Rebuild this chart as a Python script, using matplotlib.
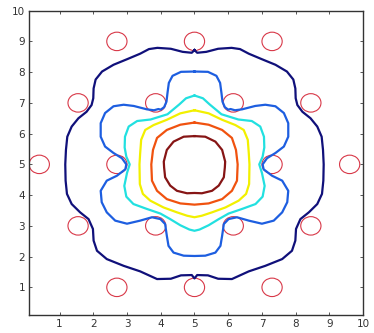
import matplotlib
matplotlib.use("Agg")
import matplotlib.pyplot as plt
from matplotlib.patches import Circle

# contour lines, (x, y) in data units, one closed loop per level
navy_pts = [(5.00, 8.72), (4.92, 8.63), (4.65, 8.66), (4.30, 8.76), (3.90, 8.79), (3.65, 8.75),
            (3.39, 8.60), (3.00, 8.42), (2.60, 8.24), (2.26, 8.02), (2.07, 7.76), (2.01, 7.47),
            (2.00, 7.15), (1.95, 6.93), (1.80, 6.71), (1.56, 6.50), (1.36, 6.23), (1.23, 5.90),
            (1.19, 5.47), (1.17, 5.00), (1.18, 4.47), (1.22, 4.04), (1.36, 3.71), (1.61, 3.44),
            (1.86, 3.22), (1.99, 2.90), (2.01, 2.52), (2.11, 2.19), (2.40, 1.92), (2.90, 1.70),
            (3.39, 1.52), (3.89, 1.27), (4.30, 1.28), (4.60, 1.39), (4.92, 1.40), (5.00, 1.29),
            (5.08, 1.40), (5.40, 1.39), (5.70, 1.28), (6.11, 1.27), (6.61, 1.52), (7.10, 1.70),
            (7.60, 1.92), (7.89, 2.19), (7.99, 2.52), (8.01, 2.90), (8.14, 3.22), (8.39, 3.44),
            (8.64, 3.71), (8.78, 4.04), (8.82, 4.47), (8.83, 5.00), (8.81, 5.47), (8.77, 5.90),
            (8.64, 6.23), (8.44, 6.50), (8.20, 6.71), (8.05, 6.93), (8.00, 7.15), (7.99, 7.47),
            (7.93, 7.76), (7.74, 8.02), (7.40, 8.24), (7.00, 8.42), (6.61, 8.60), (6.35, 8.75),
            (6.10, 8.79), (5.70, 8.76), (5.35, 8.66), (5.08, 8.63), (5.00, 8.72)]

blue_pts = [(5.00, 8.02), (4.60, 8.01), (4.35, 7.88), (4.24, 7.65), (4.20, 7.32), (4.17, 7.04),
            (4.10, 6.86), (4.00, 6.78), (3.93, 6.80), (3.80, 6.76), (3.59, 6.79), (3.20, 6.90),
            (2.90, 6.94), (2.60, 6.89), (2.35, 6.67), (2.22, 6.34), (2.22, 5.90), (2.35, 5.58),
            (2.60, 5.37), (2.85, 5.20), (2.98, 5.00), (2.95, 4.84), (2.70, 4.63), (2.40, 4.47),
            (2.22, 4.14), (2.25, 3.77), (2.40, 3.44), (2.65, 3.17), (3.00, 3.07), (3.39, 3.17),
            (3.74, 3.28), (3.99, 3.22), (4.13, 3.06), (4.18, 2.68), (4.23, 2.35), (4.38, 2.13),
            (4.68, 2.03), (5.00, 2.02), (5.32, 2.03), (5.62, 2.13), (5.77, 2.35), (5.82, 2.68),
            (5.87, 3.06), (6.01, 3.22), (6.26, 3.28), (6.61, 3.17), (7.00, 3.07), (7.35, 3.17),
            (7.60, 3.44), (7.75, 3.77), (7.78, 4.14), (7.60, 4.47), (7.30, 4.63), (7.05, 4.84),
            (7.02, 5.00), (7.15, 5.20), (7.40, 5.37), (7.65, 5.58), (7.78, 5.90), (7.78, 6.34),
            (7.65, 6.67), (7.40, 6.89), (7.10, 6.94), (6.80, 6.90), (6.41, 6.79), (6.20, 6.76),
            (6.07, 6.80), (6.00, 6.78), (5.90, 6.86), (5.83, 7.04), (5.80, 7.32), (5.76, 7.65),
            (5.65, 7.88), (5.40, 8.01), (5.00, 8.02)]

cyan_pts = [(5.00, 7.24), (4.75, 7.15), (4.55, 6.95), (4.20, 6.63), (3.70, 6.46), (3.30, 6.41),
            (3.05, 6.23), (2.94, 5.90), (2.93, 5.55), (2.98, 5.25), (3.08, 5.00), (3.00, 4.72),
            (2.92, 4.30), (2.98, 3.95), (3.19, 3.71), (3.59, 3.55), (3.99, 3.40), (4.28, 3.22),
            (4.58, 3.02), (4.85, 2.88), (5.00, 2.84), (5.15, 2.88), (5.42, 3.02), (5.72, 3.22),
            (6.01, 3.40), (6.41, 3.55), (6.81, 3.71), (7.02, 3.95), (7.08, 4.30), (7.00, 4.72),
            (6.92, 5.00), (7.02, 5.25), (7.07, 5.55), (7.06, 5.90), (6.95, 6.23), (6.70, 6.41),
            (6.30, 6.46), (5.80, 6.63), (5.45, 6.95), (5.25, 7.15), (5.00, 7.24)]

yellow_pts = [(5.00, 6.76), (4.58, 6.66), (4.18, 6.45), (3.79, 6.28), (3.54, 6.12), (3.42, 5.80),
              (3.39, 5.36), (3.37, 5.00), (3.38, 4.36), (3.47, 4.04), (3.69, 3.82), (4.08, 3.60),
              (4.48, 3.44), (4.78, 3.33), (5.00, 3.28), (5.22, 3.33), (5.52, 3.44), (5.92, 3.60),
              (6.31, 3.82), (6.53, 4.04), (6.62, 4.36), (6.63, 5.00), (6.61, 5.36), (6.58, 5.80),
              (6.46, 6.12), (6.21, 6.28), (5.82, 6.45), (5.42, 6.66), (5.00, 6.76)]

orange_pts = [(5.00, 6.36), (4.58, 6.29), (4.18, 6.12), (3.89, 5.86), (3.77, 5.47), (3.72, 5.00),
              (3.74, 4.47), (3.89, 4.14), (4.18, 3.87), (4.58, 3.73), (5.00, 3.69), (5.42, 3.73),
              (5.82, 3.87), (6.11, 4.14), (6.26, 4.47), (6.28, 5.00), (6.23, 5.47), (6.11, 5.86),
              (5.82, 6.12), (5.42, 6.29), (5.00, 6.36)]

darkred_pts = [(5.00, 5.92), (4.68, 5.90), (4.38, 5.74), (4.18, 5.47), (4.09, 5.09), (4.10, 4.90),
               (4.13, 4.58), (4.28, 4.31), (4.48, 4.14), (4.78, 4.06), (5.00, 4.07), (5.22, 4.06),
               (5.52, 4.14), (5.72, 4.31), (5.87, 4.58), (5.90, 4.90), (5.91, 5.09), (5.82, 5.47),
               (5.62, 5.74), (5.32, 5.90), (5.00, 5.92)]

# small red circles (obstacles)
circle_x = [2.70, 5.00, 7.30,
            1.55, 3.85, 6.15, 8.45,
            0.40, 2.70, 7.30, 9.60,
            1.55, 3.85, 6.15, 8.45,
            2.70, 5.00, 7.30]
circle_y = [9, 9, 9,
            7, 7, 7, 7,
            5, 5, 5, 5,
            3, 3, 3, 3,
            1, 1, 1]
circle_r = 0.3

levels = [(navy_pts, '#10107a'), (blue_pts, '#1d5ee0'), (cyan_pts, '#22e0e0'),
          (yellow_pts, '#f2f000'), (orange_pts, '#f0520f'), (darkred_pts, '#861515')]

fig = plt.figure(figsize=(3.74, 3.33), dpi=100)
ax = fig.add_axes([0.078, 0.054, 0.893, 0.914])

for pts, col in levels:
    xs = [p[0] for p in pts]
    ys = [p[1] for p in pts]
    ax.plot(xs, ys, color=col, lw=1.6, solid_joinstyle='round')

for cx, cy in zip(circle_x, circle_y):
    ax.add_patch(Circle((cx, cy), circle_r, fill=False, ec='#d83848', lw=0.8))

ax.set_xlim(0.1, 10)
ax.set_ylim(0.1, 10)
ax.set_xticks(range(1, 11))
ax.set_yticks(range(1, 11))
ax.tick_params(direction='in', top=True, right=True, length=2.5, width=0.7,
               labelsize=7.5, labelcolor='#333333', color='#555555', pad=3)
for s in ax.spines.values():
    s.set_color('#333333')
    s.set_linewidth(1.0)

fig.savefig('out.png', dpi=100)
